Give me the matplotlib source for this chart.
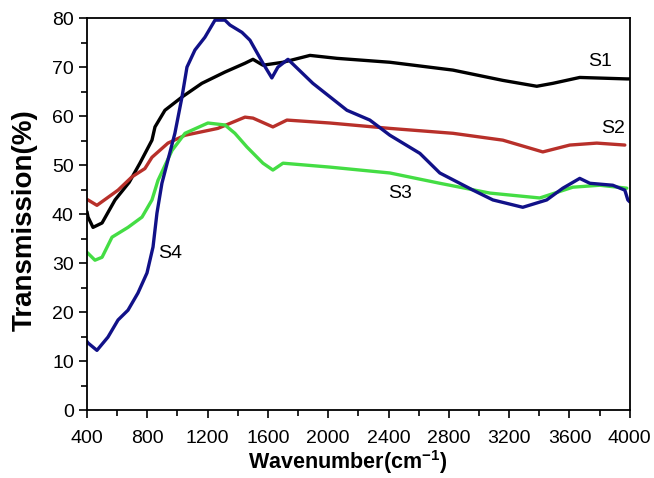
import matplotlib
matplotlib.use("Agg")
import matplotlib.pyplot as plt
from matplotlib.ticker import MultipleLocator

plt.rcParams['font.family'] = ['Liberation Sans', 'DejaVu Sans']

# FTIR transmission spectra, wavenumber (cm-1) vs transmission (%)
s1_x = [400, 407, 440, 500, 586, 680, 751, 831, 851, 917, 1030, 1162, 1315, 1448,
        1501, 1567, 1700, 1879, 2058, 2409, 2827, 3158, 3383, 3490, 3668, 3980, 4000]
s1_y = [40.5, 39.4, 37.3, 38.2, 42.9, 46.5, 50.4, 55.1, 57.8, 61.2, 63.9, 66.7, 69.0, 70.8,
        71.6, 70.4, 71.0, 72.4, 71.8, 71.0, 69.4, 67.3, 66.1, 66.7, 67.9, 67.6, 67.6]

s2_x = [400, 407, 466, 606, 698, 784, 831, 937, 1050, 1268, 1448, 1501, 1633, 1726,
        2011, 2409, 2827, 3158, 3423, 3602, 3781, 3967]
s2_y = [43.0, 42.9, 41.8, 44.9, 47.6, 49.3, 51.6, 54.5, 56.1, 57.5, 59.8, 59.6, 57.8, 59.2,
        58.6, 57.5, 56.5, 55.1, 52.7, 54.1, 54.5, 54.1]

s3_x = [400, 407, 453, 500, 566, 672, 765, 831, 871, 964, 1050, 1202, 1315, 1381, 1461,
        1567, 1633, 1700, 2011, 2409, 2740, 3072, 3403, 3622, 3801, 3980]
s3_y = [32.2, 32.0, 30.6, 31.2, 35.3, 37.3, 39.4, 42.9, 46.9, 53.0, 56.5, 58.6, 58.2, 56.5, 53.7,
        50.4, 49.0, 50.4, 49.6, 48.4, 46.3, 44.3, 43.3, 45.5, 45.9, 45.3]

s4_x = [400, 407, 466, 539, 606, 672, 738, 798, 838, 864, 897, 983, 1030, 1063, 1116,
        1182, 1249, 1315, 1348, 1428, 1481, 1567, 1626, 1666, 1733, 1898, 2124, 2276,
        2409, 2608, 2740, 2960, 3092, 3290, 3449, 3556, 3668, 3735, 3887, 3967, 3987, 4000]
s4_y = [14.0, 13.7, 12.2, 14.9, 18.4, 20.4, 23.9, 28.0, 33.3, 40.2, 46.3, 56.5, 63.9, 70.0, 73.5,
        76.1, 79.6, 79.6, 78.6, 77.1, 75.5, 70.8, 67.8, 70.0, 71.6, 66.7, 61.2, 59.2,
        56.1, 52.4, 48.4, 44.9, 42.9, 41.4, 42.9, 45.3, 47.3, 46.3, 45.9, 44.9, 42.9, 42.5]

series = [
    ("S1", s1_x, s1_y, "#000000"),
    ("S2", s2_x, s2_y, "#b8302a"),
    ("S3", s3_x, s3_y, "#44dd44"),
    ("S4", s4_x, s4_y, "#111188"),
]

# label text and anchor position (data coords)
labels = {"S1": (3800, 71.2), "S2": (3890, 57.5), "S3": (2475, 44.3), "S4": (950, 32.0)}

fig = plt.figure(figsize=(6.54, 4.78), dpi=100)
ax = fig.add_axes([0.133, 0.142, 0.830, 0.820])

for name, x, y, color in series:
    ax.plot(x, y, color=color, linewidth=2.4, solid_joinstyle='round', solid_capstyle='round')

for name, (lx, ly) in labels.items():
    ax.text(lx, ly, name, fontsize=14, ha='center', va='center')

ax.set_xlim(400, 4000)
ax.set_ylim(0, 80)
ax.xaxis.set_major_locator(MultipleLocator(400))
ax.xaxis.set_minor_locator(MultipleLocator(200))
ax.yaxis.set_major_locator(MultipleLocator(10))
ax.yaxis.set_minor_locator(MultipleLocator(5))
ax.tick_params(which='both', direction='out', top=False, right=False, labelsize=14, width=1.2)
ax.tick_params(which='major', length=6)
ax.tick_params(which='minor', length=4)
ax.tick_params(axis='x', which='major', pad=8)
for sp in ax.spines.values():
    sp.set_linewidth(1.3)

ax.set_xlabel("Wavenumber(cm$^{\\mathregular{-1}}$)", fontsize=15.5, fontweight='bold')
ax.set_ylabel("Transmission(%)", fontsize=20, fontweight='bold')
ax.xaxis.set_label_coords(0.48, -0.098)
ax.yaxis.set_label_coords(-0.090, 0.485)

fig.savefig("out.png", dpi=100)
